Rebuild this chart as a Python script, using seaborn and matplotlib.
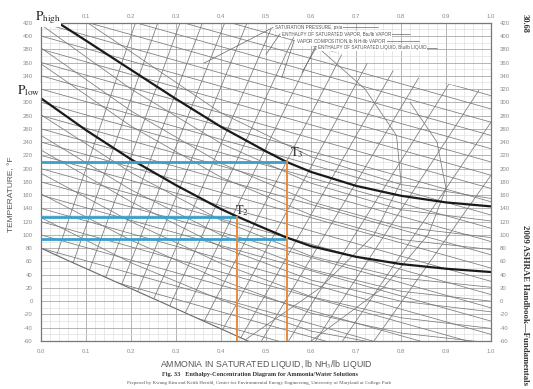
import numpy as np
import pandas as pd
import matplotlib
matplotlib.use("Agg")
import matplotlib.pyplot as plt
from matplotlib.patches import Polygon
import seaborn as sns

# thick saturation pressure curves (T in °F vs liquid NH3 mass fraction)
p_high_x = [0.038, 0.1, 0.2, 0.3, 0.4, 0.5, 0.546, 0.6, 0.7, 0.8, 0.9, 1.0]
p_high_t = [420, 393, 349, 305, 263, 226, 210, 195, 174, 159, 149, 143]
p_low_x = [0.0, 0.1, 0.2, 0.3, 0.4, 0.435, 0.5, 0.546, 0.6, 0.7, 0.8, 0.9, 1.0]
p_low_t = [306, 258, 214, 175, 139, 128, 109, 96, 83, 67, 56, 49, 44]

# highlighted state points (T3, T2, and the low-pressure point)
state_x = [0.546, 0.435, 0.546]
state_t = [210, 127, 94]

# grey background isobars, T at these concentrations
iso_x = [0.0, 0.2, 0.4, 0.6, 0.8, 1.0]
iso_2 = [126, 58, 2, -45, -70, -80]
iso_5 = [162, 92, 32, -18, -48, -63]
iso_10 = [193, 120, 57, 7, -25, -41]
iso_20 = [228, 150, 82, 32, 0, -16]
iso_30 = [250, 168, 100, 48, 15, 0]
iso_50 = [281, 194, 122, 68, 35, 21]
iso_150 = [358, 264, 187, 130, 93, 78]
iso_200 = [382, 287, 208, 150, 112, 96]
iso_300 = [417, 320, 238, 178, 138, 121]
iso_500 = [467, 376, 284, 218, 176, 155]

# grey descending enthalpy lines: T at x=0 and at x=1
enth_left = [-20, 0, 20, 40, 60, 80, 100, 120, 140, 160, 180, 200, 220, 240, 260,
             280, 300, 320, 340, 360, 380, 400, 420, 440, 460, 480, 500, 520,
             540, 560, 580, 600, 620]
enth_right = [-210, -190, -170, -150, -130, -110, -90, -70, -50, -30, -10, 10, 30,
              50, 70, 90, 110, 130, 150, 170, 190, 210, 230, 250, 270, 290, 310,
              330, 350, 370, 390, 410, 430]

# grey rising composition lines: start / end points
comp_x0 = [-0.03, 0.01, 0.05, 0.09, 0.13, 0.17, 0.21, 0.25, 0.29, 0.34, 0.39,
           0.44, 0.49, 0.55, 0.61, 0.67, 0.74]
comp_t0 = [-60, -60, -60, -60, -60, -60, -60, -60, -60, -60, -60, -60, -60, -60,
           -60, -60, -60]
comp_x1 = [0.22, 0.27, 0.32, 0.37, 0.42, 0.47, 0.53, 0.59, 0.65, 0.72, 0.79,
           0.86, 0.93, 1.01, 1.09, 1.17, 1.26]
comp_t1 = [440, 440, 440, 440, 440, 440, 440, 440, 440, 440, 440, 440, 440, 440,
           440, 440, 440]

# vapour-enthalpy dome curves
dome1_x = [0.45, 0.62, 0.74, 0.80, 0.79, 0.72, 0.62]
dome1_t = [-60, 20, 100, 180, 250, 320, 380]
dome2_x = [0.60, 0.76, 0.86, 0.90, 0.88, 0.82]
dome2_t = [-60, 20, 100, 170, 240, 300]

# outline of the meshed region
mesh_x = [0.0, 0.0, 0.45, 0.55, 0.70, 0.85, 1.0, 1.0, 0.46, 0.309, 0.058, 0.0]
mesh_t = [80, 425, 425, 401, 364, 335, 315, -61, -61, -14, 62, 80]
edge_x = [0.0, 0.058, 0.309, 0.46]
edge_t = [80, 62, -14, -60]

x_ticks = [0.0, 0.1, 0.2, 0.3, 0.4, 0.5, 0.6, 0.7, 0.8, 0.9, 1.0]
t_ticks = [420, 400, 380, 360, 340, 320, 300, 280, 260, 240, 220, 200, 180, 160,
           140, 120, 100, 80, 60, 40, 20, 0, -20, -40, -60]

sns.set_style("white")
plt.rcParams['axes.unicode_minus'] = False
plt.rcParams['mathtext.fontset'] = 'stix'
plt.rcParams['font.family'] = ['Liberation Sans', 'DejaVu Sans']
serif = ['Liberation Serif', 'DejaVu Serif']

fig = plt.figure(figsize=(5.33, 3.89), dpi=100)
ax = fig.add_axes([0.0769, 0.1234, 0.8443, 0.8182])
ax.set_xlim(0, 1)
ax.set_ylim(-60, 420)

# grid
ax.set_xticks(np.arange(0, 1.001, 0.02), minor=True)
ax.set_yticks(np.arange(-60, 421, 10), minor=True)
ax.set_xticks(x_ticks)
ax.set_yticks(t_ticks)
ax.grid(which='minor', color='#d8d8d8', lw=0.4)
ax.grid(which='major', color='#a8a8a8', lw=0.6)
ax.set_axisbelow(True)

# background mesh
rows = []
k = 0
for t in [iso_2, iso_5, iso_10, iso_20, iso_30, iso_50, iso_150, iso_200, iso_300, iso_500]:
    for xx, tt in zip(iso_x, t):
        rows.append((k, xx, tt))
    k += 1
for a, b in zip(enth_left, enth_right):
    rows.append((k, 0.0, a)); rows.append((k, 1.0, b)); k += 1
for a, b, c, d in zip(comp_x0, comp_t0, comp_x1, comp_t1):
    rows.append((k, a, b)); rows.append((k, c, d)); k += 1
for dx, dt in [(dome1_x, dome1_t), (dome2_x, dome2_t)]:
    for xx, tt in zip(dx, dt):
        rows.append((k, xx, tt))
    k += 1
mesh = pd.DataFrame(rows, columns=['line', 'x', 't'])

before = set(ax.get_children())
sns.lineplot(data=mesh, x='x', y='t', units='line', estimator=None, sort=False,
             color='#7a7a7a', lw=0.55, ax=ax, legend=False)
new = [a for a in ax.get_children() if a not in before]
clip = Polygon(np.column_stack([mesh_x, mesh_t]), closed=True, transform=ax.transData)
for a in new:
    a.set_clip_path(clip)
    a.set_zorder(1)
ax.plot(edge_x, edge_t, color='#6a6a6a', lw=0.8, zorder=3)

# thick pressure curves
sns.lineplot(x=p_high_x, y=p_high_t, sort=False, color='#1a1a1a', lw=1.6, ax=ax)
sns.lineplot(x=p_low_x, y=p_low_t, sort=False, color='#1a1a1a', lw=1.6, ax=ax)

# highlighted temperatures and concentrations
for xx, tt in zip(state_x, state_t):
    ax.plot([0, xx], [tt, tt], color='#3a9fca', lw=2.0, solid_capstyle='butt', zorder=5)
ax.plot([state_x[0], state_x[0]], [state_t[0], -60], color='#ea8a3c', lw=1.4, zorder=6)
ax.plot([state_x[1], state_x[1]], [state_t[1], -60], color='#ea8a3c', lw=1.4, zorder=6)

ax.text(-0.013, 427, r'$\mathrm{P_{high}}$', fontsize=9.5, ha='left', va='center',
        clip_on=False, zorder=8, bbox=dict(fc='white', ec='none', pad=0.2))
ax.text(-0.053, 318, r'$\mathrm{P_{low}}$', fontsize=9.5, ha='left', va='center',
        clip_on=False, zorder=8, bbox=dict(fc='white', ec='none', pad=0.2))
ax.text(0.553, 224, r'$\mathrm{T_3}$', fontsize=9, va='center', zorder=8)
ax.text(0.431, 136, r'$\mathrm{T_2}$', fontsize=9, va='center', zorder=8)

# legend notes with leader lines
notes = [("SATURATION PRESSURE, psia", 0.52, 413, 0.362, 359, 0.75),
         ("ENTHALPY OF SATURATED VAPOR, Btu/lb VAPOR", 0.535, 403, 0.50, 372, 0.82),
         ("VAPOR COMPOSITION, lb NH$_3$/lb VAPOR", 0.566, 392, 0.535, 337, 0.84),
         ("ENTHALPY OF SATURATED LIQUID, Btu/lb LIQUID", 0.615, 382, 0.58, 345, 0.88)]
for txt, tx, tt, lx, lt, ex in notes:
    ax.text(tx, tt, txt, fontsize=3.3, color='#555555', va='center', ha='left',
            zorder=7, bbox=dict(fc='white', ec='none', pad=0.3))
    ax.plot([lx, tx - 0.004], [lt, tt], color='#666666', lw=0.5, zorder=6)
    ax.plot([tx + 0.1, ex], [tt, tt], color='#666666', lw=0.5, zorder=6)

# axes styling
for s in ax.spines.values():
    s.set_color('#777777')
    s.set_linewidth(0.9)
ax.tick_params(which='both', length=0, labelsize=4.3, labelcolor='#8a8a8a', pad=6,
               labelright=True)
ax.set_xticklabels([f'{v:.1f}' for v in x_ticks])
ax.set_yticklabels([str(v) for v in t_ticks])
top = ax.secondary_xaxis('top')
top.set_xticks(x_ticks[1:])
top.set_xticklabels([f'{v:.1f}' for v in x_ticks[1:]])
top.tick_params(length=0, labelsize=4.3, labelcolor='#8a8a8a', pad=3)
top.spines['top'].set_visible(False)

ax.set_ylabel('TEMPERATURE, °F', fontsize=6, color='#555555')
ax.yaxis.set_label_coords(-0.058, 0.46)
ax.set_xlabel('AMMONIA IN SATURATED LIQUID, lb NH$_3$/lb LIQUID', fontsize=6.3,
              color='#555555')
ax.xaxis.set_label_coords(0.5, -0.052)

fig.text(0.488, 0.037, 'Fig. 33   Enthalpy-Concentration Diagram for Ammonia/Water Solutions',
         fontsize=4.5, family=serif, weight='bold', ha='center', va='center', color='#333333')
fig.text(0.486, 0.015, 'Prepared by Kwang Kim and Keith Herold, Center for Environmental '
         'Energy Engineering, University of Maryland at College Park',
         fontsize=3.6, family=serif, ha='center', va='center', color='#555555')
fig.text(0.985, 0.94, '30.68', fontsize=6, family=serif, weight='bold', rotation=-90,
         ha='center', va='center', color='#333333')
fig.text(0.985, 0.215, '2009 ASHRAE Handbook\u2014Fundamentals', fontsize=6.3, family=serif,
         weight='bold', rotation=-90, ha='center', va='center', color='#333333')

fig.savefig('out.png', dpi=100)
